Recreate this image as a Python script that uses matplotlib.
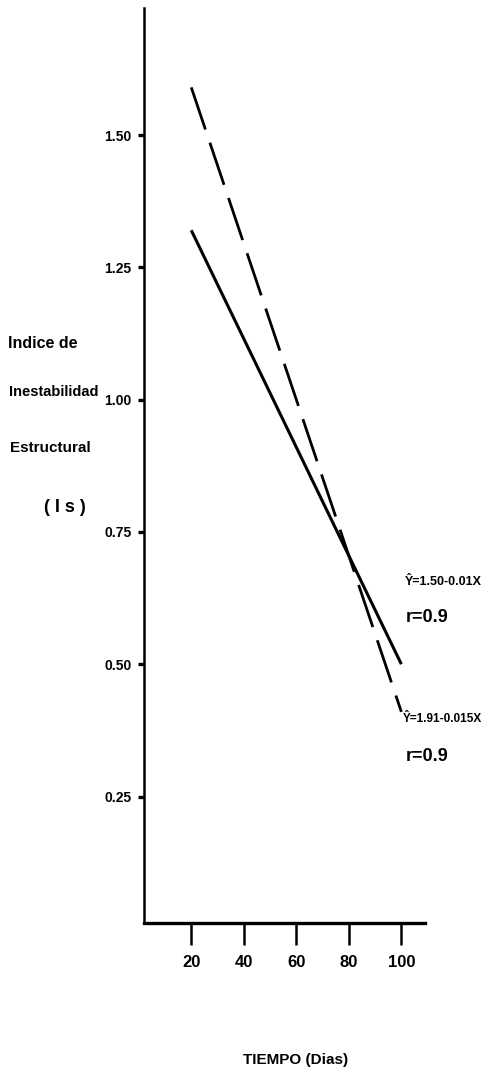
import matplotlib.pyplot as plt

# datos
dias = [20, 100]
ie_recta1 = [1.32, 0.50]   # Y = 1.50 - 0.01X  (linea continua)
ie_recta2 = [1.59, 0.41]   # Y = 1.91 - 0.015X (linea discontinua)
xticks = [20, 40, 60, 80, 100]
xtick_labels = ['20', '40', '60', '80', '100']
yticks = [0.25, 0.50, 0.75, 1.00, 1.25, 1.50]
ytick_labels = ['0.25', '0.50', '0.75', '1.00', '1.25', '1.50']

plt.rcParams['font.family'] = ['Liberation Sans', 'DejaVu Sans']
plt.rcParams['font.weight'] = 'bold'

W, H = 495, 1079
fig = plt.figure(figsize=(W / 100, H / 100), dpi=100)
ax = fig.add_axes([144 / W, 1 - 923 / H, (425 - 144) / W, (923 - 8) / H])

ax.plot(dias, ie_recta1, color='black', lw=2.2, solid_capstyle='butt')
ax.plot(dias, ie_recta2, color='black', lw=2.0, dashes=(16, 5))

ax.set_xlim(2, 109)
ax.set_ylim(0.011, 1.74)
ax.spines['top'].set_visible(False)
ax.spines['right'].set_visible(False)
ax.spines['left'].set_linewidth(1.8)
ax.spines['bottom'].set_linewidth(2.4)

ax.set_xticks(xticks)
ax.set_xticklabels(xtick_labels, fontsize=12, fontweight='bold')
ax.set_yticks(yticks)
ax.set_yticklabels(ytick_labels, fontsize=10, fontweight='bold')
ax.tick_params(axis='x', direction='out', length=16, width=1.8, pad=7)
ax.tick_params(axis='y', direction='out', length=4, width=2.4, pad=5)

# ecuaciones
ax.text(101.5, 0.655, 'Ŷ=1.50-0.01X', fontsize=9, va='center', ha='left', clip_on=False)
ax.text(101.5, 0.589, 'r=0.9', fontsize=13, va='center', ha='left', clip_on=False)
ax.text(100.6, 0.397, 'Ŷ=1.91-0.015X', fontsize=8.5, va='center', ha='left', clip_on=False)
ax.text(101.5, 0.325, 'r=0.9', fontsize=13, va='center', ha='left', clip_on=False)

# titulo de ejes
fig.text(8 / W, 1 - 343 / H, 'Indice de', fontsize=11.5, va='center', ha='left')
fig.text(9 / W, 1 - 392 / H, 'Inestabilidad', fontsize=10.5, va='center', ha='left')
fig.text(10 / W, 1 - 448 / H, 'Estructural', fontsize=11, va='center', ha='left')
fig.text(65 / W, 1 - 507 / H, '( I s )', fontsize=13, va='center', ha='center')
fig.text(296 / W, 1 - 1060 / H, 'TIEMPO (Dias)', fontsize=11, va='center', ha='center')

plt.savefig('out.png', dpi=100)
